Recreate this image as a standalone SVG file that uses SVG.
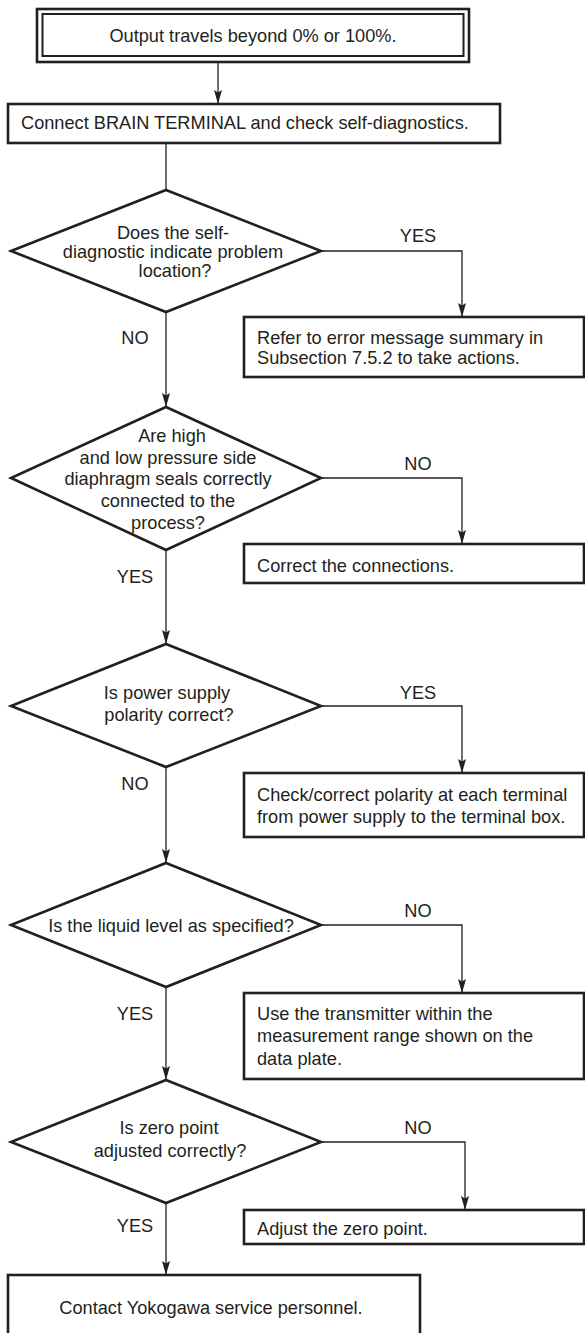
<svg xmlns="http://www.w3.org/2000/svg" width="585" height="1333" viewBox="0 0 585 1333">
<style>
.t{font-family:"Liberation Sans",Arial,sans-serif;font-size:18.2px;fill:#231f20}
.c{text-anchor:middle}
.box{fill:#fff;stroke:#231f20;stroke-width:2.6}
.dia{fill:#fff;stroke:#231f20;stroke-width:2.6;stroke-linejoin:miter}
.ln{fill:none;stroke:#231f20;stroke-width:1.3}
</style>
<defs>
<marker id="arr" viewBox="0 0 14 8" refX="14" refY="4" markerWidth="14" markerHeight="8" markerUnits="userSpaceOnUse" orient="auto">
<path d="M0,0 L14,4 L0,8 L2.5,4 Z" fill="#231f20"/>
</marker>
</defs>
<rect width="585" height="1333" fill="#fff"/>

<g id="connectors">
<line class="ln" x1="218" y1="62" x2="218" y2="104" marker-end="url(#arr)"/>
<line class="ln" x1="166" y1="143" x2="166" y2="190"/>
<polyline class="ln" points="321,251 462,251 462,317" marker-end="url(#arr)"/>
<line class="ln" x1="166" y1="312" x2="166" y2="407" marker-end="url(#arr)"/>
<polyline class="ln" points="321,478 462,478 462,544" marker-end="url(#arr)"/>
<line class="ln" x1="166" y1="550" x2="166" y2="644" marker-end="url(#arr)"/>
<polyline class="ln" points="321,706 462,706 462,773" marker-end="url(#arr)"/>
<line class="ln" x1="166" y1="767" x2="166" y2="863" marker-end="url(#arr)"/>
<polyline class="ln" points="321,925 462,925 462,993" marker-end="url(#arr)"/>
<line class="ln" x1="166" y1="987" x2="166" y2="1080" marker-end="url(#arr)"/>
<polyline class="ln" points="321,1142 465,1142 465,1210" marker-end="url(#arr)"/>
<line class="ln" x1="166" y1="1203" x2="166" y2="1275" marker-end="url(#arr)"/>
<text class="t c" x="418" y="241.5">YES</text>
<text class="t c" x="135" y="343.5">NO</text>
<text class="t c" x="418" y="469.5">NO</text>
<text class="t c" x="135" y="582.5">YES</text>
<text class="t c" x="418" y="698.5">YES</text>
<text class="t c" x="135" y="789.5">NO</text>
<text class="t c" x="418" y="916.5">NO</text>
<text class="t c" x="135" y="1019.5">YES</text>
<text class="t c" x="418" y="1133.5">NO</text>
<text class="t c" x="135" y="1231.5">YES</text>
</g>

<g id="start">
<rect x="37" y="9" width="432" height="53" fill="#fff" stroke="#231f20" stroke-width="2.6"/>
<rect x="42.5" y="14" width="421" height="42" fill="none" stroke="#231f20" stroke-width="2"/>
<text class="t c" x="253" y="42">Output travels beyond 0% or 100%.</text>
</g>

<g id="connect">
<rect class="box" x="8" y="104" width="492" height="39"/>
<text class="t" x="21" y="128.5">Connect BRAIN TERMINAL and check self-diagnostics.</text>
</g>

<g id="q1">
<polygon class="dia" points="166,190 321,251 166,312 11,251"/>
<text class="t c" x="173" y="239">Does the self-</text>
<text class="t c" x="173" y="258">diagnostic indicate problem</text>
<text class="t c" x="175" y="277">location?</text>
</g>
<g id="a1">
<rect class="box" x="244" y="317" width="340" height="60"/>
<text class="t" x="257" y="343.5">Refer to error message summary in</text>
<text class="t" x="257" y="363.5">Subsection 7.5.2 to take actions.</text>
</g>

<g id="q2">
<polygon class="dia" points="166,407 321,478 166,550 11,478"/>
<text class="t c" x="172" y="441.5">Are high</text>
<text class="t c" x="168" y="463.5">and low pressure side</text>
<text class="t c" x="168" y="485">diaphragm seals correctly</text>
<text class="t c" x="168" y="507">connected to the</text>
<text class="t c" x="168" y="529">process?</text>
</g>
<g id="a2">
<rect class="box" x="244" y="544" width="340" height="39"/>
<text class="t" x="257" y="571.5">Correct the connections.</text>
</g>

<g id="q3">
<polygon class="dia" points="166,644 321,706 166,767 11,706"/>
<text class="t c" x="167" y="698.5">Is power supply</text>
<text class="t c" x="169" y="720.5">polarity correct?</text>
</g>
<g id="a3">
<rect class="box" x="244" y="773" width="340" height="64"/>
<text class="t" x="257" y="801">Check/correct polarity at each terminal</text>
<text class="t" x="257" y="823">from power supply to the terminal box.</text>
</g>

<g id="q4">
<polygon class="dia" points="166,863 321,925 166,987 11,925"/>
<text class="t c" x="171" y="931.5">Is the liquid level as specified?</text>
</g>
<g id="a4">
<rect class="box" x="244" y="993" width="340" height="86"/>
<text class="t" x="257" y="1019.5">Use the transmitter within the</text>
<text class="t" x="257" y="1042">measurement range shown on the</text>
<text class="t" x="257" y="1064.5">data plate.</text>
</g>

<g id="q5">
<polygon class="dia" points="166,1080 321,1142 166,1203 11,1142"/>
<text class="t c" x="169" y="1133.5">Is zero point</text>
<text class="t c" x="170" y="1156.5">adjusted correctly?</text>
</g>
<g id="a5">
<rect class="box" x="244" y="1210" width="340" height="34"/>
<text class="t" x="257" y="1234.5">Adjust the zero point.</text>
</g>

<g id="end">
<rect class="box" x="8" y="1275" width="412" height="70"/>
<text class="t c" x="211" y="1313.5">Contact Yokogawa service personnel.</text>
</g>
</svg>
